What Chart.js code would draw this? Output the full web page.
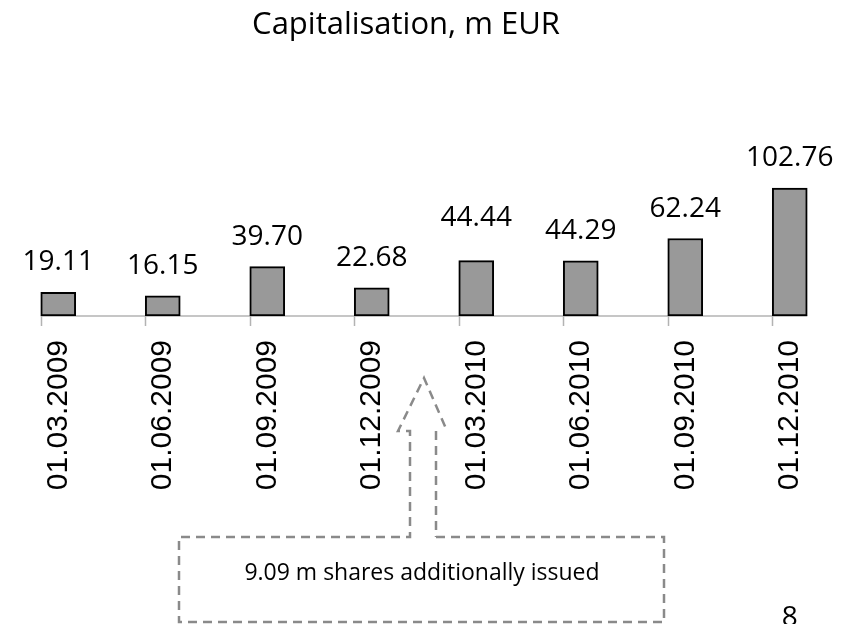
<!DOCTYPE html>
<html>
<head>
<meta charset="utf-8">
<script src="https://cdn.jsdelivr.net/npm/chart.js@4"></script>
<style>
  html, body { margin: 0; padding: 0; background: #ffffff; }
  #wrap { position: relative; width: 852px; height: 624px; }
</style>
</head>
<body>
<div id="wrap"><canvas id="c"></canvas></div>
<script>
// ---- data ----
const categories = ["01.03.2009", "01.06.2009", "01.09.2009", "01.12.2009",
                    "01.03.2010", "01.06.2010", "01.09.2010", "01.12.2010"];
const capitalisation = [19.11, 16.15, 39.70, 22.68, 44.44, 44.29, 62.24, 102.76];
const valueLabels = ["19.11", "16.15", "39.70", "22.68", "44.44", "44.29", "62.24", "102.76"];
const chartTitle = "Capitalisation, m EUR";
const noteText = "9.09 m shares additionally issued";
const pageNumber = "8";

const decor = {
  id: 'decor',
  beforeDatasetsDraw(chart) {
    const ctx = chart.ctx;
    const meta = chart.getDatasetMeta(0);
    const bars = meta.data;
    const y0 = chart.chartArea.bottom;
    ctx.save();
    ctx.strokeStyle = '#b3b3b3';
    ctx.lineWidth = 1.5;
    const first = bars[0], last = bars[bars.length - 1];
    ctx.beginPath();
    ctx.moveTo(first.x - first.width / 2, y0);
    ctx.lineTo(last.x + last.width / 2, y0);
    ctx.stroke();
    bars.forEach(b => {
      const x = Math.round(b.x - b.width / 2) + 0.5;
      ctx.beginPath();
      ctx.moveTo(x, y0);
      ctx.lineTo(x, y0 + 10);
      ctx.stroke();
    });
    ctx.restore();
  },
  afterDatasetsDraw(chart, args, opts) {
    const ctx = chart.ctx;
    const meta = chart.getDatasetMeta(0);
    const xs = chart.scales.x;
    const area = chart.chartArea;
    ctx.save();
    // value labels
    ctx.fillStyle = '#000';
    ctx.font = '28px "Open Sans", "Noto Sans", sans-serif';
    ctx.textAlign = 'center';
    ctx.textBaseline = 'alphabetic';
    meta.data.forEach((b, i) => {
      const lift = (opts.extraLift && opts.extraLift[i]) || 0;
      ctx.fillText(valueLabels[i], b.x, b.y - 22 - lift);
    });
    // title
    ctx.font = '31px "Open Sans", "Noto Sans", sans-serif';
    ctx.textBaseline = 'alphabetic';
    ctx.fillText(chartTitle, 406, 34);

    // annotation arrow + box
    const mid = (xs.getPixelForValue(3) + xs.getPixelForValue(4)) / 2;
    const yb = area.bottom;
    const tipY = yb + 62, headY = yb + 115, boxTop = yb + 221, boxBot = yb + 306;
    const shaftL = mid - 14, shaftR = mid + 12, headL = mid - 26, headR = mid + 23;
    const boxL = mid - 245, boxR = mid + 240;
    ctx.strokeStyle = '#8a8a8a';
    ctx.lineWidth = 2.5;
    ctx.setLineDash([9, 6]);
    ctx.beginPath();
    ctx.moveTo(shaftR, boxTop);
    ctx.lineTo(boxR, boxTop);
    ctx.lineTo(boxR, boxBot);
    ctx.lineTo(boxL, boxBot);
    ctx.lineTo(boxL, boxTop);
    ctx.lineTo(shaftL, boxTop);
    ctx.lineTo(shaftL, headY);
    ctx.lineTo(headL, headY);
    ctx.lineTo(mid, tipY);
    ctx.lineTo(headR, headY);
    ctx.stroke();
    ctx.beginPath();
    ctx.moveTo(shaftR, headY);
    ctx.lineTo(shaftR, boxTop);
    ctx.stroke();
    ctx.setLineDash([]);
    ctx.fillStyle = '#000';
    ctx.font = '23px "Open Sans", "Noto Sans", sans-serif';
    ctx.textAlign = 'center';
    ctx.textBaseline = 'middle';
    ctx.fillText(noteText, mid - 2, yb + 257);

    // page number
    const lastBar = meta.data[meta.data.length - 1];
    ctx.font = '28px "Open Sans", "Noto Sans", sans-serif';
    ctx.textBaseline = 'alphabetic';
    ctx.fillText(pageNumber, lastBar.x, 626);
    ctx.restore();
  }
};

new Chart(document.getElementById('c'), {
  type: 'bar',
  data: {
    labels: categories,
    datasets: [{
      data: capitalisation,
      backgroundColor: '#999999',
      borderColor: '#000000',
      borderWidth: 2,
      borderSkipped: false,
      barThickness: 35
    }]
  },
  options: {
    responsive: true,
    maintainAspectRatio: false,
    animation: false,
    layout: { padding: { top: 67, left: 6, right: 10, bottom: 0 } },
    plugins: {
      legend: { display: false },
      title: { display: false },
      tooltip: { enabled: false },
      decor: { extraLift: [0, 0, 0, 0, 13, 0, 0, 0] }
    },
    scales: {
      x: {
        offset: true,
        grid: { display: false, drawTicks: false },
        border: { display: false },
        ticks: {
          minRotation: 90,
          maxRotation: 90,
          autoSkip: false,
          padding: 24,
          color: '#000',
          font: { family: '"Liberation Sans", Arial, sans-serif', size: 30 }
        },
        afterFit(scale) { scale.height = 308; }
      },
      y: {
        display: false,
        min: 0,
        max: 200
      }
    }
  },
  plugins: [decor]
});
</script>
</body>
</html>
